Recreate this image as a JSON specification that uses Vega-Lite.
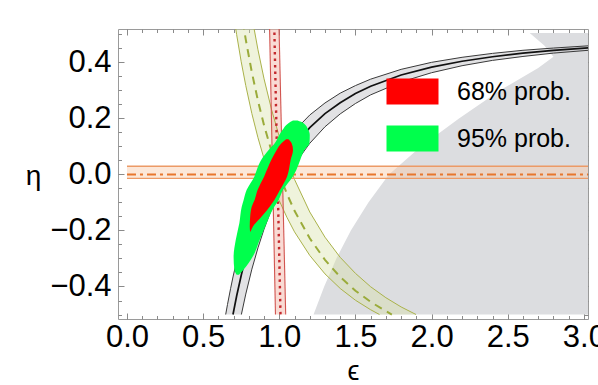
{
  "$schema": "https://vega.github.io/schema/vega-lite/v6.json",
  "width": 470,
  "height": 290,
  "autosize": {"type": "none"},
  "padding": {"left": 118, "top": 29, "right": 10, "bottom": 66},
  "background": "white",
  "datasets": {
    "grey": [
      {"eta": -0.5, "e1": 1.225, "e2": 3.03},
      {"eta": -0.4, "e1": 1.295, "e2": 3.03},
      {"eta": -0.3, "e1": 1.375, "e2": 3.03},
      {"eta": -0.2, "e1": 1.47, "e2": 3.03},
      {"eta": -0.1, "e1": 1.585, "e2": 3.03},
      {"eta": 0.0, "e1": 1.72, "e2": 3.03},
      {"eta": 0.1, "e1": 1.93, "e2": 3.03},
      {"eta": 0.2, "e1": 2.18, "e2": 3.03},
      {"eta": 0.3, "e1": 2.45, "e2": 3.03},
      {"eta": 0.38, "e1": 2.7, "e2": 3.03},
      {"eta": 0.42, "e1": 2.8, "e2": 3.03},
      {"eta": 0.46, "e1": 2.74, "e2": 3.03},
      {"eta": 0.505, "e1": 2.644, "e2": 3.03}
    ],
    "hb": [
      {"b": "k", "e": 0.648, "lo": -0.5, "hi": -0.5},
      {"b": "k", "e": 0.66, "lo": -0.5, "hi": -0.464},
      {"b": "k", "e": 0.68, "lo": -0.5, "hi": -0.408},
      {"b": "k", "e": 0.696, "lo": -0.5, "hi": -0.366},
      {"b": "k", "e": 0.72, "lo": -0.5, "hi": -0.309},
      {"b": "k", "e": 0.751, "lo": -0.5, "hi": -0.243},
      {"b": "k", "e": 0.78, "lo": -0.427, "hi": -0.189},
      {"b": "k", "e": 0.82, "lo": -0.338, "hi": -0.123},
      {"b": "k", "e": 0.86, "lo": -0.262, "hi": -0.066},
      {"b": "k", "e": 0.9, "lo": -0.195, "hi": -0.016},
      {"b": "k", "e": 0.95, "lo": -0.123, "hi": 0.037},
      {"b": "k", "e": 1.0, "lo": -0.062, "hi": 0.083},
      {"b": "k", "e": 1.05, "lo": -0.009, "hi": 0.122},
      {"b": "k", "e": 1.1, "lo": 0.036, "hi": 0.156},
      {"b": "k", "e": 1.2, "lo": 0.111, "hi": 0.212},
      {"b": "k", "e": 1.3, "lo": 0.17, "hi": 0.255},
      {"b": "k", "e": 1.4, "lo": 0.216, "hi": 0.29},
      {"b": "k", "e": 1.5, "lo": 0.253, "hi": 0.317},
      {"b": "k", "e": 1.6, "lo": 0.284, "hi": 0.34},
      {"b": "k", "e": 1.8, "lo": 0.33, "hi": 0.375},
      {"b": "k", "e": 2.0, "lo": 0.363, "hi": 0.4},
      {"b": "k", "e": 2.2, "lo": 0.388, "hi": 0.418},
      {"b": "k", "e": 2.4, "lo": 0.407, "hi": 0.432},
      {"b": "k", "e": 2.6, "lo": 0.421, "hi": 0.443},
      {"b": "k", "e": 2.8, "lo": 0.433, "hi": 0.451},
      {"b": "k", "e": 3.03, "lo": 0.443, "hi": 0.459},
      {"b": "y", "e": 0.7, "lo": 0.57, "hi": 1.05},
      {"b": "y", "e": 0.72, "lo": 0.499, "hi": 0.952},
      {"b": "y", "e": 0.75, "lo": 0.402, "hi": 0.819},
      {"b": "y", "e": 0.78, "lo": 0.317, "hi": 0.701},
      {"b": "y", "e": 0.82, "lo": 0.217, "hi": 0.563},
      {"b": "y", "e": 0.86, "lo": 0.131, "hi": 0.445},
      {"b": "y", "e": 0.9, "lo": 0.056, "hi": 0.341},
      {"b": "y", "e": 0.95, "lo": -0.025, "hi": 0.23},
      {"b": "y", "e": 1.0, "lo": -0.094, "hi": 0.135},
      {"b": "y", "e": 1.05, "lo": -0.153, "hi": 0.053},
      {"b": "y", "e": 1.1, "lo": -0.205, "hi": -0.018},
      {"b": "y", "e": 1.2, "lo": -0.289, "hi": -0.134},
      {"b": "y", "e": 1.3, "lo": -0.355, "hi": -0.224},
      {"b": "y", "e": 1.4, "lo": -0.407, "hi": -0.296},
      {"b": "y", "e": 1.5, "lo": -0.449, "hi": -0.353},
      {"b": "y", "e": 1.6, "lo": -0.483, "hi": -0.401},
      {"b": "y", "e": 1.658, "lo": -0.5, "hi": -0.424},
      {"b": "y", "e": 1.7, "lo": -0.5, "hi": -0.44},
      {"b": "y", "e": 1.8, "lo": -0.5, "hi": -0.473},
      {"b": "y", "e": 1.898, "lo": -0.5, "hi": -0.5},
      {"b": "o", "e": 0.0, "lo": -0.014, "hi": 0.029},
      {"b": "o", "e": 3.03, "lo": -0.014, "hi": 0.029}
    ],
    "vb": [
      {"eta": -0.5, "e1": 0.975, "e2": 1.042},
      {"eta": 0.53, "e1": 0.936, "e2": 0.998}
    ],
    "ln": [
      {"ln": "ku", "e": 0.648, "eta": -0.5}, {"ln": "ku", "e": 0.66, "eta": -0.464}, {"ln": "ku", "e": 0.68, "eta": -0.408}, {"ln": "ku", "e": 0.696, "eta": -0.366}, {"ln": "ku", "e": 0.72, "eta": -0.309}, {"ln": "ku", "e": 0.751, "eta": -0.243}, {"ln": "ku", "e": 0.78, "eta": -0.189}, {"ln": "ku", "e": 0.82, "eta": -0.123}, {"ln": "ku", "e": 0.86, "eta": -0.066}, {"ln": "ku", "e": 0.9, "eta": -0.016}, {"ln": "ku", "e": 0.95, "eta": 0.037}, {"ln": "ku", "e": 1.0, "eta": 0.083}, {"ln": "ku", "e": 1.05, "eta": 0.122}, {"ln": "ku", "e": 1.1, "eta": 0.156}, {"ln": "ku", "e": 1.2, "eta": 0.212}, {"ln": "ku", "e": 1.3, "eta": 0.255}, {"ln": "ku", "e": 1.4, "eta": 0.29}, {"ln": "ku", "e": 1.5, "eta": 0.317}, {"ln": "ku", "e": 1.6, "eta": 0.34}, {"ln": "ku", "e": 1.8, "eta": 0.375}, {"ln": "ku", "e": 2.0, "eta": 0.4}, {"ln": "ku", "e": 2.2, "eta": 0.418}, {"ln": "ku", "e": 2.4, "eta": 0.432}, {"ln": "ku", "e": 2.6, "eta": 0.443}, {"ln": "ku", "e": 2.8, "eta": 0.451}, {"ln": "ku", "e": 3.03, "eta": 0.459},
      {"ln": "kl", "e": 0.751, "eta": -0.5}, {"ln": "kl", "e": 0.78, "eta": -0.427}, {"ln": "kl", "e": 0.82, "eta": -0.338}, {"ln": "kl", "e": 0.86, "eta": -0.262}, {"ln": "kl", "e": 0.9, "eta": -0.195}, {"ln": "kl", "e": 0.95, "eta": -0.123}, {"ln": "kl", "e": 1.0, "eta": -0.062}, {"ln": "kl", "e": 1.05, "eta": -0.009}, {"ln": "kl", "e": 1.1, "eta": 0.036}, {"ln": "kl", "e": 1.2, "eta": 0.111}, {"ln": "kl", "e": 1.3, "eta": 0.17}, {"ln": "kl", "e": 1.4, "eta": 0.216}, {"ln": "kl", "e": 1.5, "eta": 0.253}, {"ln": "kl", "e": 1.6, "eta": 0.284}, {"ln": "kl", "e": 1.8, "eta": 0.33}, {"ln": "kl", "e": 2.0, "eta": 0.363}, {"ln": "kl", "e": 2.2, "eta": 0.388}, {"ln": "kl", "e": 2.4, "eta": 0.407}, {"ln": "kl", "e": 2.6, "eta": 0.421}, {"ln": "kl", "e": 2.8, "eta": 0.433}, {"ln": "kl", "e": 3.03, "eta": 0.443},
      {"ln": "km", "e": 0.696, "eta": -0.5}, {"ln": "km", "e": 0.72, "eta": -0.434}, {"ln": "km", "e": 0.751, "eta": -0.358}, {"ln": "km", "e": 0.78, "eta": -0.295}, {"ln": "km", "e": 0.82, "eta": -0.219}, {"ln": "km", "e": 0.86, "eta": -0.153}, {"ln": "km", "e": 0.9, "eta": -0.096}, {"ln": "km", "e": 0.95, "eta": -0.035}, {"ln": "km", "e": 1.0, "eta": 0.018}, {"ln": "km", "e": 1.05, "eta": 0.063}, {"ln": "km", "e": 1.1, "eta": 0.103}, {"ln": "km", "e": 1.2, "eta": 0.167}, {"ln": "km", "e": 1.3, "eta": 0.217}, {"ln": "km", "e": 1.4, "eta": 0.256}, {"ln": "km", "e": 1.5, "eta": 0.289}, {"ln": "km", "e": 1.6, "eta": 0.315}, {"ln": "km", "e": 1.8, "eta": 0.355}, {"ln": "km", "e": 2.0, "eta": 0.383}, {"ln": "km", "e": 2.2, "eta": 0.404}, {"ln": "km", "e": 2.4, "eta": 0.42}, {"ln": "km", "e": 2.6, "eta": 0.433}, {"ln": "km", "e": 2.8, "eta": 0.443}, {"ln": "km", "e": 3.03, "eta": 0.452},
      {"ln": "yl", "e": 0.7, "eta": 0.57}, {"ln": "yl", "e": 0.72, "eta": 0.499}, {"ln": "yl", "e": 0.75, "eta": 0.402}, {"ln": "yl", "e": 0.78, "eta": 0.317}, {"ln": "yl", "e": 0.82, "eta": 0.217}, {"ln": "yl", "e": 0.86, "eta": 0.131}, {"ln": "yl", "e": 0.9, "eta": 0.056}, {"ln": "yl", "e": 0.95, "eta": -0.025}, {"ln": "yl", "e": 1.0, "eta": -0.094}, {"ln": "yl", "e": 1.05, "eta": -0.153}, {"ln": "yl", "e": 1.1, "eta": -0.205}, {"ln": "yl", "e": 1.2, "eta": -0.289}, {"ln": "yl", "e": 1.3, "eta": -0.355}, {"ln": "yl", "e": 1.4, "eta": -0.407}, {"ln": "yl", "e": 1.5, "eta": -0.449}, {"ln": "yl", "e": 1.6, "eta": -0.483}, {"ln": "yl", "e": 1.658, "eta": -0.5},
      {"ln": "yr", "e": 0.78, "eta": 0.701}, {"ln": "yr", "e": 0.82, "eta": 0.563}, {"ln": "yr", "e": 0.86, "eta": 0.445}, {"ln": "yr", "e": 0.9, "eta": 0.341}, {"ln": "yr", "e": 0.95, "eta": 0.23}, {"ln": "yr", "e": 1.0, "eta": 0.135}, {"ln": "yr", "e": 1.05, "eta": 0.053}, {"ln": "yr", "e": 1.1, "eta": -0.018}, {"ln": "yr", "e": 1.2, "eta": -0.134}, {"ln": "yr", "e": 1.3, "eta": -0.224}, {"ln": "yr", "e": 1.4, "eta": -0.296}, {"ln": "yr", "e": 1.5, "eta": -0.353}, {"ln": "yr", "e": 1.6, "eta": -0.401}, {"ln": "yr", "e": 1.7, "eta": -0.44}, {"ln": "yr", "e": 1.8, "eta": -0.473}, {"ln": "yr", "e": 1.898, "eta": -0.5},
      {"ln": "ym", "e": 0.72, "eta": 0.694}, {"ln": "ym", "e": 0.75, "eta": 0.581}, {"ln": "ym", "e": 0.78, "eta": 0.481}, {"ln": "ym", "e": 0.82, "eta": 0.364}, {"ln": "ym", "e": 0.86, "eta": 0.263}, {"ln": "ym", "e": 0.9, "eta": 0.175}, {"ln": "ym", "e": 0.95, "eta": 0.081}, {"ln": "ym", "e": 1.0, "eta": 0.0}, {"ln": "ym", "e": 1.05, "eta": -0.069}, {"ln": "ym", "e": 1.1, "eta": -0.13}, {"ln": "ym", "e": 1.2, "eta": -0.228}, {"ln": "ym", "e": 1.3, "eta": -0.305}, {"ln": "ym", "e": 1.4, "eta": -0.366}, {"ln": "ym", "e": 1.5, "eta": -0.415}, {"ln": "ym", "e": 1.6, "eta": -0.455}, {"ln": "ym", "e": 1.7, "eta": -0.488}, {"ln": "ym", "e": 1.739, "eta": -0.5},
      {"ln": "rl", "e": 0.936, "eta": 0.53}, {"ln": "rl", "e": 0.975, "eta": -0.5},
      {"ln": "rr", "e": 0.998, "eta": 0.53}, {"ln": "rr", "e": 1.042, "eta": -0.5},
      {"ln": "rm", "e": 0.967, "eta": 0.53}, {"ln": "rm", "e": 1.008, "eta": -0.5},
      {"ln": "ou", "e": 0.0, "eta": 0.029}, {"ln": "ou", "e": 3.03, "eta": 0.029},
      {"ln": "ol", "e": 0.0, "eta": -0.014}, {"ln": "ol", "e": 3.03, "eta": -0.014},
      {"ln": "om", "e": 0.0, "eta": 0.0}, {"ln": "om", "e": 3.03, "eta": 0.0}
    ],
    "blobs": [
      {"prob": "95% prob.", "eta": 0.192, "e1": 1.09, "e2": 1.12},
      {"prob": "95% prob.", "eta": 0.183, "e1": 1.06, "e2": 1.16},
      {"prob": "95% prob.", "eta": 0.159, "e1": 1.022, "e2": 1.19},
      {"prob": "95% prob.", "eta": 0.141, "e1": 1.0, "e2": 1.2},
      {"prob": "95% prob.", "eta": 0.111, "e1": 0.97, "e2": 1.198},
      {"prob": "95% prob.", "eta": 0.087, "e1": 0.93, "e2": 1.165},
      {"prob": "95% prob.", "eta": 0.052, "e1": 0.882, "e2": 1.138},
      {"prob": "95% prob.", "eta": 0.016, "e1": 0.852, "e2": 1.112},
      {"prob": "95% prob.", "eta": -0.008, "e1": 0.836, "e2": 1.088},
      {"prob": "95% prob.", "eta": -0.055, "e1": 0.786, "e2": 1.025},
      {"prob": "95% prob.", "eta": -0.091, "e1": 0.766, "e2": 0.996},
      {"prob": "95% prob.", "eta": -0.116, "e1": 0.753, "e2": 0.966},
      {"prob": "95% prob.", "eta": -0.173, "e1": 0.738, "e2": 0.917},
      {"prob": "95% prob.", "eta": -0.234, "e1": 0.714, "e2": 0.871},
      {"prob": "95% prob.", "eta": -0.294, "e1": 0.7, "e2": 0.825},
      {"prob": "95% prob.", "eta": -0.34, "e1": 0.705, "e2": 0.765},
      {"prob": "95% prob.", "eta": -0.358, "e1": 0.72, "e2": 0.735},
      {"prob": "68% prob.", "eta": 0.1255, "e1": 1.045, "e2": 1.06},
      {"prob": "68% prob.", "eta": 0.111, "e1": 1.014, "e2": 1.081},
      {"prob": "68% prob.", "eta": 0.087, "e1": 0.983, "e2": 1.09},
      {"prob": "68% prob.", "eta": 0.052, "e1": 0.948, "e2": 1.075},
      {"prob": "68% prob.", "eta": -0.008, "e1": 0.9, "e2": 1.051},
      {"prob": "68% prob.", "eta": -0.055, "e1": 0.858, "e2": 1.005},
      {"prob": "68% prob.", "eta": -0.091, "e1": 0.838, "e2": 0.968},
      {"prob": "68% prob.", "eta": -0.115, "e1": 0.819, "e2": 0.937},
      {"prob": "68% prob.", "eta": -0.15, "e1": 0.809, "e2": 0.884},
      {"prob": "68% prob.", "eta": -0.186, "e1": 0.806, "e2": 0.827},
      {"prob": "68% prob.", "eta": -0.204, "e1": 0.808, "e2": 0.812}
    ]
  },
  "layer": [
    {
      "data": {"name": "grey"},
      "mark": {"type": "area", "orient": "horizontal", "color": "#dcdde0", "clip": true},
      "encoding": {
        "y": {"field": "eta", "type": "quantitative", "scale": {"domain": [-0.516, 0.519], "nice": false, "zero": false},
          "axis": {"orient": "left", "values": [-0.4, -0.2, 0, 0.2, 0.4], "format": ".1f", "tickSize": -6, "labelPadding": 13, "title": "η", "titleAngle": 0, "titleFontSize": 28, "titleX": -85, "titleY": 147, "titleAlign": "center", "titleBaseline": "middle", "labelOverlap": false}},
        "x": {"field": "e1", "type": "quantitative", "scale": {"domain": [-0.059, 3.027], "nice": false, "zero": false},
          "axis": {"orient": "bottom", "values": [0, 0.5, 1, 1.5, 2, 2.5, 3], "format": ".1f", "tickSize": -6, "labelPadding": 9, "title": "ϵ", "titleFontSize": 27, "titlePadding": 6, "labelFlush": false, "labelOverlap": false}},
        "x2": {"field": "e2"}
      }
    },
    {
      "data": {"name": "hb"},
      "transform": [{"filter": "datum.b == 'k'"}],
      "mark": {"type": "area", "color": "#c6c6ca", "opacity": 0.5, "clip": true},
      "encoding": {
        "x": {"field": "e", "type": "quantitative",
          "axis": {"orient": "bottom", "values": [0,0.1,0.2,0.3,0.4,0.5,0.6,0.7,0.8,0.9,1,1.1,1.2,1.3,1.4,1.5,1.6,1.7,1.8,1.9,2,2.1,2.2,2.3,2.4,2.5,2.6,2.7,2.8,2.9,3], "labels": false, "tickSize": -3.5, "title": null}},
        "y": {"field": "lo", "type": "quantitative",
          "axis": {"orient": "left", "values": [-0.5,-0.45,-0.4,-0.35,-0.3,-0.25,-0.2,-0.15,-0.1,-0.05,0,0.05,0.1,0.15,0.2,0.25,0.3,0.35,0.4,0.45,0.5], "labels": false, "tickSize": -3.5, "title": null}},
        "y2": {"field": "hi"}
      }
    },
    {
      "data": {"name": "hb"},
      "transform": [{"filter": "datum.b == 'y'"}],
      "mark": {"type": "area", "color": "#d8e2a8", "opacity": 0.4, "clip": true},
      "encoding": {
        "x": {"field": "e", "type": "quantitative",
          "axis": {"orient": "top", "values": [0, 0.5, 1, 1.5, 2, 2.5, 3], "labels": false, "tickSize": -6, "title": null}},
        "y": {"field": "lo", "type": "quantitative",
          "axis": {"orient": "right", "values": [-0.4, -0.2, 0, 0.2, 0.4], "labels": false, "tickSize": -6, "title": null}},
        "y2": {"field": "hi"}
      }
    },
    {
      "data": {"name": "vb"},
      "mark": {"type": "area", "orient": "horizontal", "color": "#f4b8aa", "opacity": 0.5, "clip": true},
      "encoding": {
        "y": {"field": "eta", "type": "quantitative",
          "axis": {"orient": "right", "values": [-0.5,-0.45,-0.4,-0.35,-0.3,-0.25,-0.2,-0.15,-0.1,-0.05,0,0.05,0.1,0.15,0.2,0.25,0.3,0.35,0.4,0.45,0.5], "labels": false, "tickSize": -3.5, "title": null}},
        "x": {"field": "e1", "type": "quantitative",
          "axis": {"orient": "top", "values": [0,0.1,0.2,0.3,0.4,0.5,0.6,0.7,0.8,0.9,1,1.1,1.2,1.3,1.4,1.5,1.6,1.7,1.8,1.9,2,2.1,2.2,2.3,2.4,2.5,2.6,2.7,2.8,2.9,3], "labels": false, "tickSize": -3.5, "title": null}},
        "x2": {"field": "e2"}
      }
    },
    {
      "data": {"name": "hb"},
      "transform": [{"filter": "datum.b == 'o'"}],
      "mark": {"type": "area", "color": "#f8c9a8", "opacity": 0.45, "clip": true},
      "encoding": {
        "x": {"field": "e", "type": "quantitative", "axis": null},
        "y": {"field": "lo", "type": "quantitative", "axis": null},
        "y2": {"field": "hi"}
      }
    },
    {
      "data": {"name": "ln"},
      "transform": [{"filter": "datum.ln == 'ku' || datum.ln == 'kl'"}],
      "mark": {"type": "line", "color": "#3a3a3a", "strokeWidth": 1, "clip": true},
      "encoding": {"x": {"field": "e", "type": "quantitative", "axis": null}, "y": {"field": "eta", "type": "quantitative", "axis": null}, "detail": {"field": "ln"}}
    },
    {
      "data": {"name": "ln"},
      "transform": [{"filter": "datum.ln == 'km'"}],
      "mark": {"type": "line", "color": "#111111", "strokeWidth": 1.7, "clip": true},
      "encoding": {"x": {"field": "e", "type": "quantitative", "axis": null}, "y": {"field": "eta", "type": "quantitative", "axis": null}, "detail": {"field": "ln"}}
    },
    {
      "data": {"name": "ln"},
      "transform": [{"filter": "datum.ln == 'yl' || datum.ln == 'yr'"}],
      "mark": {"type": "line", "color": "#aab24a", "strokeWidth": 1, "clip": true},
      "encoding": {"x": {"field": "e", "type": "quantitative", "axis": null}, "y": {"field": "eta", "type": "quantitative", "axis": null}, "detail": {"field": "ln"}}
    },
    {
      "data": {"name": "ln"},
      "transform": [{"filter": "datum.ln == 'ym'"}],
      "mark": {"type": "line", "color": "#9aab3a", "strokeWidth": 2, "strokeDash": [8, 6], "clip": true},
      "encoding": {"x": {"field": "e", "type": "quantitative", "axis": null}, "y": {"field": "eta", "type": "quantitative", "axis": null}, "detail": {"field": "ln"}}
    },
    {
      "data": {"name": "ln"},
      "transform": [{"filter": "datum.ln == 'rl' || datum.ln == 'rr'"}],
      "mark": {"type": "line", "color": "#d25550", "strokeWidth": 1.1, "clip": true},
      "encoding": {"x": {"field": "e", "type": "quantitative", "axis": null}, "y": {"field": "eta", "type": "quantitative", "axis": null}, "detail": {"field": "ln"}}
    },
    {
      "data": {"name": "ln"},
      "transform": [{"filter": "datum.ln == 'rm'"}],
      "mark": {"type": "line", "color": "#c4282c", "strokeWidth": 2.4, "strokeDash": [2.5, 4], "clip": true},
      "encoding": {"x": {"field": "e", "type": "quantitative", "axis": null}, "y": {"field": "eta", "type": "quantitative", "axis": null}, "detail": {"field": "ln"}}
    },
    {
      "data": {"name": "ln"},
      "transform": [{"filter": "datum.ln == 'ou' || datum.ln == 'ol'"}],
      "mark": {"type": "line", "color": "#ec9a66", "strokeWidth": 1.4, "clip": true},
      "encoding": {"x": {"field": "e", "type": "quantitative", "axis": null}, "y": {"field": "eta", "type": "quantitative", "axis": null}, "detail": {"field": "ln"}}
    },
    {
      "data": {"name": "ln"},
      "transform": [{"filter": "datum.ln == 'om'"}],
      "mark": {"type": "line", "color": "#e8762c", "strokeWidth": 2, "strokeDash": [9, 4, 3, 4], "clip": true},
      "encoding": {"x": {"field": "e", "type": "quantitative", "axis": null}, "y": {"field": "eta", "type": "quantitative", "axis": null}, "detail": {"field": "ln"}}
    },
    {
      "data": {"name": "blobs"},
      "transform": [{"filter": "datum.prob == '95% prob.'"}],
      "mark": {"type": "area", "orient": "horizontal", "interpolate": "monotone", "opacity": 1, "clip": true},
      "encoding": {
        "y": {"field": "eta", "type": "quantitative", "axis": null},
        "x": {"field": "e1", "type": "quantitative", "axis": null},
        "x2": {"field": "e2"},
        "color": {"field": "prob", "type": "nominal", "scale": {"domain": ["68% prob.", "95% prob."], "range": ["#ff0000", "#00ff4c"]},
          "legend": {"orient": "none", "legendX": 268, "legendY": 36, "title": null, "symbolType": "M-1,-0.5L1,-0.5L1,0.5L-1,0.5Z", "symbolSize": 2704, "labelFontSize": 25, "labelFont": "Liberation Sans", "labelColor": "black", "labelOffset": 18, "rowPadding": 7, "padding": 0, "symbolOpacity": 1,
            "encode": {"symbols": {"update": {"strokeWidth": {"value": 1}, "strokeOpacity": {"value": 0}, "strokeJoin": {"value": "miter"}, "strokeCap": {"value": "butt"}, "shape": {"value": "M-1,-0.5L1,-0.5L1,0.5L-1,0.5Z"}}}}}}
      }
    },
    {
      "data": {"name": "blobs"},
      "transform": [{"filter": "datum.prob == '68% prob.'"}],
      "mark": {"type": "area", "orient": "horizontal", "interpolate": "monotone", "opacity": 1, "clip": true},
      "encoding": {
        "y": {"field": "eta", "type": "quantitative", "axis": null},
        "x": {"field": "e1", "type": "quantitative", "axis": null},
        "x2": {"field": "e2"},
        "color": {"field": "prob", "type": "nominal"}
      }
    }
  ],
  "resolve": {"axis": {"x": "independent", "y": "independent"}},
  "config": {
    "view": {"stroke": "#9a9a9a", "strokeWidth": 1},
    "axis": {"domain": false, "grid": false, "tickColor": "#8a8a8a", "tickWidth": 1, "labelFont": "Liberation Sans", "labelFontSize": 31, "labelColor": "black", "titleFont": "Liberation Sans", "titleFontWeight": "normal", "titleColor": "black"}
  }
}
